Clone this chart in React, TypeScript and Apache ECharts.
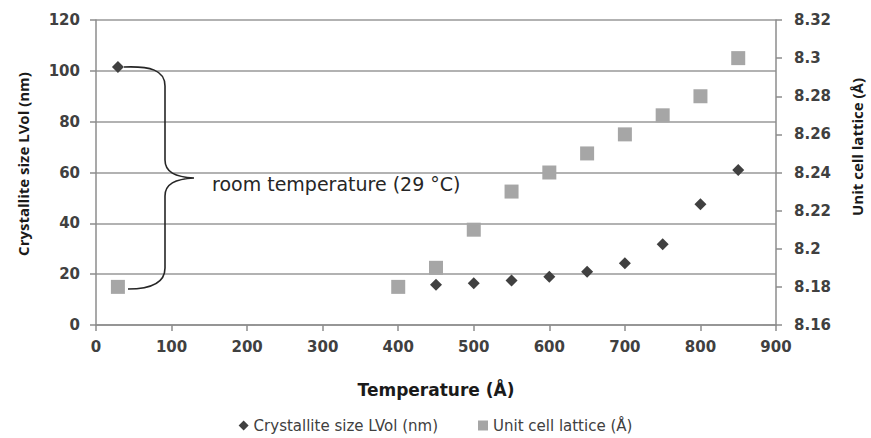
import React, { useEffect, useRef } from "react";
import * as echarts from "echarts";

const temperatures = [29, 400, 450, 500, 550, 600, 650, 700, 750, 800, 850];
const crystalliteSize = [101.5, 15.3, 15.8, 16.4, 17.5, 19.0, 21.0, 24.3, 31.8, 47.5, 61.0];
const latticeTemps = [29, 400, 450, 500, 550, 600, 650, 700, 750, 800, 850];
const unitCellLattice = [8.18, 8.18, 8.19, 8.21, 8.23, 8.24, 8.25, 8.26, 8.27, 8.28, 8.3];

const BRACE_D =
  "M124 67 C150 66 165 70 165 86 L165 160 C165 172 175 177 194 178 C175 179 165 184 165 196 L165 268 C165 283 150 289 128 289";

echarts.graphic.registerShape("brace", (echarts.graphic as any).extendPath(BRACE_D, {}));

export default function App() {
  const ref = useRef<HTMLDivElement>(null);
  useEffect(() => {
    if (!ref.current) return;
    const chart = echarts.init(ref.current, null, { renderer: "svg" });
    const wide = "'DejaVu Sans', 'Open Sans', sans-serif";
    const narrow = "'Open Sans', 'Liberation Sans', sans-serif";
    const axisLabel = { color: "#404040", fontSize: 15, fontWeight: "bold" as any, fontFamily: wide };
    const axisLine = { show: true, lineStyle: { color: "#8c8c8c", width: 1.5 } };
    const axisTick = { show: true, length: 6, lineStyle: { color: "#8c8c8c", width: 1.5 } };
    chart.setOption({
      animation: false,
      textStyle: { fontFamily: wide },
      grid: { left: 96, right: 95, top: 20, bottom: 113, containLabel: false },
      xAxis: {
        type: "value",
        min: 0,
        max: 900,
        interval: 100,
        name: "Temperature (Å)",
        nameLocation: "middle",
        nameGap: 56,
        nameTextStyle: { color: "#1a1a1a", fontSize: 17, fontWeight: "bold", fontFamily: wide },
        axisLine,
        axisTick,
        axisLabel: { ...axisLabel, margin: 14 },
        splitLine: { show: false },
      },
      yAxis: [
        {
          type: "value",
          min: 0,
          max: 120,
          interval: 20,
          position: "left",
          axisLine,
          axisTick,
          axisLabel: { ...axisLabel, margin: 16 },
          splitLine: { show: true, lineStyle: { color: "#999999", width: 1.6 } },
        },
        {
          type: "value",
          min: 8.16,
          max: 8.32,
          interval: 0.02,
          position: "right",
          axisLine,
          axisTick,
          axisLabel: { ...axisLabel, margin: 18 },
          splitLine: { show: false },
        },
      ],
      legend: {
        bottom: 0,
        left: "center",
        itemGap: 40,
        itemWidth: 10,
        itemHeight: 10,
        textStyle: { color: "#404040", fontSize: 15, fontFamily: wide },
        data: [
          { name: "Crystallite size LVol (nm)", icon: "diamond", itemStyle: { opacity: 1 } },
          { name: "Unit cell lattice (Å)", icon: "rect", itemStyle: { opacity: 1 } },
        ],
      },
      series: [
        {
          name: "Crystallite size LVol (nm)",
          type: "scatter",
          yAxisIndex: 0,
          symbol: "diamond",
          symbolSize: 12,
          itemStyle: { color: "#404040", opacity: 1 },
          data: temperatures.map((t, i) => [t, crystalliteSize[i]]),
          z: 1,
        },
        {
          name: "Unit cell lattice (Å)",
          type: "scatter",
          yAxisIndex: 1,
          symbol: "rect",
          symbolSize: 14,
          itemStyle: { color: "#a6a6a6", opacity: 1 },
          data: latticeTemps.map((t, i) => [t, unitCellLattice[i]]),
          z: 5,
        },
      ],
      graphic: [
        {
          type: "brace",
          x: 0,
          y: 0,
          z: 10,
          style: { fill: null, stroke: "#262626", lineWidth: 1.6 },
        },
        {
          type: "text",
          x: 212,
          y: 184,
          z: 10,
          style: {
            text: "room temperature (29 °C)",
            fill: "#262626",
            fontSize: 19,
            fontFamily: wide,
            verticalAlign: "middle",
          },
        },
        {
          type: "text",
          x: 23,
          y: 164,
          rotation: Math.PI / 2,
          z: 10,
          style: {
            text: "Crystallite size LVol (nm)",
            fill: "#1a1a1a",
            fontSize: 15,
            fontWeight: "bold",
            fontFamily: narrow,
            align: "center",
            verticalAlign: "middle",
          },
        },
        {
          type: "text",
          x: 857,
          y: 147,
          rotation: Math.PI / 2,
          z: 10,
          style: {
            text: "Unit cell lattice (Å)",
            fill: "#1a1a1a",
            fontSize: 15,
            fontWeight: "bold",
            fontFamily: narrow,
            align: "center",
            verticalAlign: "middle",
          },
        },
      ],
    });
    return () => chart.dispose();
  }, []);
  return (
    <div
      ref={ref}
      style={{ position: "absolute", left: 0, top: 0, width: 871, height: 438 }}
    />
  );
}
